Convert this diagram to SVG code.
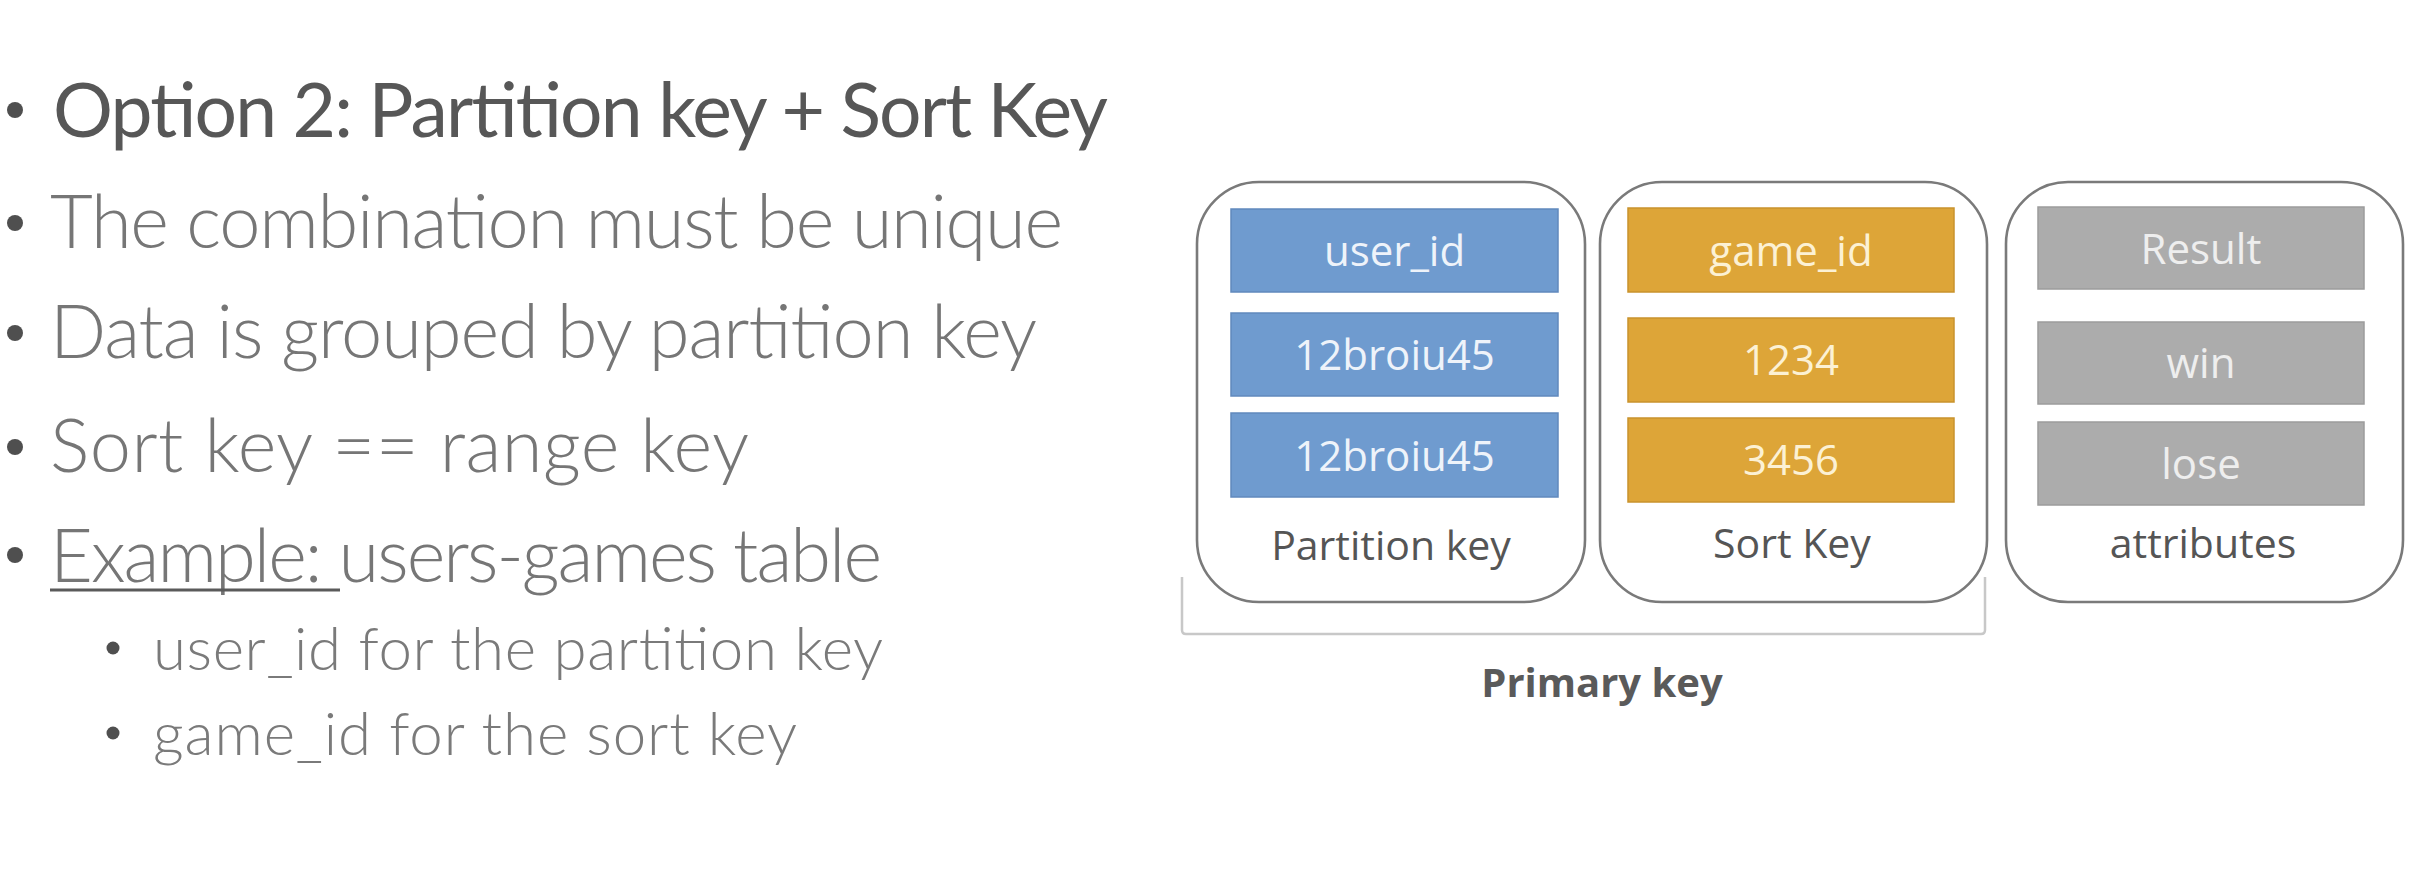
<svg xmlns="http://www.w3.org/2000/svg" width="2430" height="888" viewBox="0 0 2430 888">
  <style>
    .title { font-family: Lato, "Liberation Sans", sans-serif; font-size: 75px; font-weight: 400; fill: #575757; }
    .body { font-family: Lato, "Liberation Sans", sans-serif; font-size: 74px; font-weight: 300; fill: #767676; }
    .sub { font-family: Lato, "Liberation Sans", sans-serif; font-size: 60px; font-weight: 300; fill: #7a7a7a; }
    .dot { fill: #4f4f4f; }
    .card { fill: #ffffff; stroke: #7a7a7a; stroke-width: 2.6; }
    .cell-blue { fill: #6f9bcf; stroke: #6089bd; stroke-width: 1.5; }
    .cell-orange { fill: #dda538; stroke: #c9932c; stroke-width: 1.5; }
    .cell-gray { fill: #acacac; stroke: #9c9c9c; stroke-width: 1.5; }
    .val { font-family: "Open Sans", "Noto Sans", sans-serif; font-size: 42px; text-anchor: middle; }
    .val-blue { fill: #eef3fa; }
    .val-orange { fill: #fcf1d4; }
    .val-gray { fill: #eeeeee; }
    .label { font-family: "Open Sans", "Noto Sans", sans-serif; font-size: 41px; fill: #555555; text-anchor: middle; }
    .caption { font-family: "Open Sans", "Noto Sans", sans-serif; font-size: 40px; font-weight: 700; fill: #5a5a5a; text-anchor: middle; }
    .bracket { fill: none; stroke: #c8c8c8; stroke-width: 2.5; }
  </style>

  <rect width="2430" height="888" fill="#ffffff"/>

  <!-- bullet list -->
  <g id="bullets">
    <circle class="dot" cx="15" cy="110" r="8"/>
    <text class="title" x="53" y="137" textLength="1055">Option 2: Partition key + Sort Key</text>

    <circle class="dot" cx="15" cy="223" r="8"/>
    <text class="body" x="50" y="248" textLength="1013">The combination must be unique</text>

    <circle class="dot" cx="15" cy="333" r="8"/>
    <text class="body" x="50" y="358" textLength="987">Data is grouped by partition key</text>

    <circle class="dot" cx="15" cy="447" r="8"/>
    <text class="body" x="50" y="472" textLength="699">Sort key == range key</text>

    <circle class="dot" cx="15" cy="555" r="8"/>
    <text class="body" x="50" y="582" textLength="832">Example: users-games table</text>
    <line x1="50" y1="590" x2="340" y2="590" stroke="#5a5a5a" stroke-width="3"/>

    <circle class="dot" cx="113" cy="648" r="6.5"/>
    <text class="sub" x="153" y="670" textLength="730">user_id for the partition key</text>

    <circle class="dot" cx="113" cy="733" r="6.5"/>
    <text class="sub" x="153" y="755" textLength="644">game_id for the sort key</text>
  </g>

  <!-- partition key column -->
  <g id="partition-key">
    <rect class="card" x="1197" y="182" width="388" height="420" rx="62" ry="62"/>
    <rect class="cell-blue" x="1231" y="209" width="327" height="83"/>
    <text class="val val-blue" x="1394.5" y="266">user_id</text>
    <rect class="cell-blue" x="1231" y="313" width="327" height="83"/>
    <text class="val val-blue" x="1394.5" y="370">12broiu45</text>
    <rect class="cell-blue" x="1231" y="413" width="327" height="84"/>
    <text class="val val-blue" x="1394.5" y="471">12broiu45</text>
    <text class="label" x="1391" y="560">Partition key</text>
  </g>

  <!-- sort key column -->
  <g id="sort-key">
    <rect class="card" x="1600" y="182" width="387" height="420" rx="62" ry="62"/>
    <rect class="cell-orange" x="1628" y="208" width="326" height="84"/>
    <text class="val val-orange" x="1791" y="266">game_id</text>
    <rect class="cell-orange" x="1628" y="318" width="326" height="84"/>
    <text class="val val-orange" x="1791" y="375">1234</text>
    <rect class="cell-orange" x="1628" y="418" width="326" height="84"/>
    <text class="val val-orange" x="1791" y="475">3456</text>
    <text class="label" x="1792" y="558">Sort Key</text>
  </g>

  <!-- attributes column -->
  <g id="attributes">
    <rect class="card" x="2006" y="182" width="397" height="420" rx="62" ry="62"/>
    <rect class="cell-gray" x="2038" y="207" width="326" height="82"/>
    <text class="val val-gray" x="2201" y="264">Result</text>
    <rect class="cell-gray" x="2038" y="322" width="326" height="82"/>
    <text class="val val-gray" x="2201" y="378">win</text>
    <rect class="cell-gray" x="2038" y="422" width="326" height="83"/>
    <text class="val val-gray" x="2201" y="479">lose</text>
    <text class="label" x="2203" y="558">attributes</text>
  </g>

  <!-- bracket grouping the two key columns -->
  <g id="connectors">
    <path class="bracket" d="M1182 577 V630 Q1182 634 1186 634 H1981 Q1985 634 1985 630 V577"/>
  </g>

  <g id="primary-key-label">
    <text class="caption" x="1602" y="697">Primary key</text>
  </g>
</svg>
